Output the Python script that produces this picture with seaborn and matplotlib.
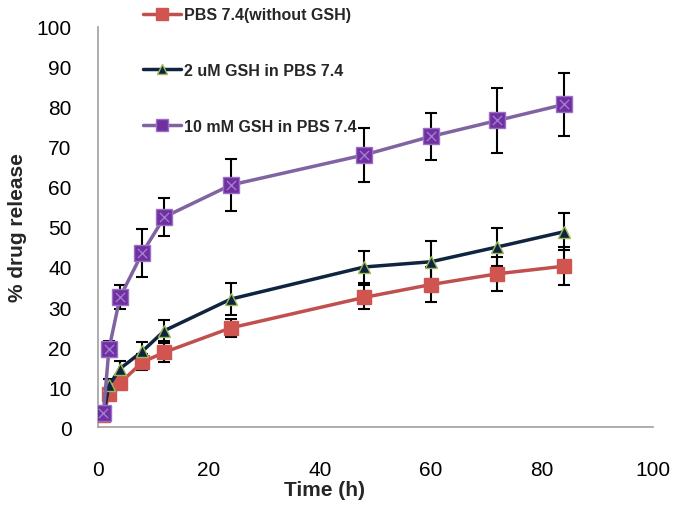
import pandas as pd
import matplotlib.pyplot as plt
import seaborn as sns

# 시간 (h)
time_h = [1, 2, 4, 8, 12, 24, 48, 60, 72, 84]

# 각 조건별 약물 방출 (%)
pbs_only = [3.0, 8.2, 11.0, 16.2, 18.7, 24.8, 32.4, 35.6, 38.3, 40.2]
pbs_only_err = [0.8, 1.2, 1.5, 2.0, 2.4, 2.3, 3.0, 4.4, 4.3, 4.8]
gsh_2um = [3.2, 10.4, 14.6, 18.9, 24.1, 32.0, 40.0, 41.3, 45.0, 48.8]
gsh_2um_err = [0.8, 1.5, 2.0, 2.3, 2.7, 4.0, 4.0, 5.3, 4.7, 4.6]
gsh_10mm = [3.6, 19.5, 32.5, 43.5, 52.5, 60.5, 68.0, 72.6, 76.6, 80.6]
gsh_10mm_err = [1.0, 2.1, 3.1, 6.0, 4.8, 6.6, 6.7, 5.8, 8.1, 7.9]

labels = ['PBS 7.4(without GSH)', '2 uM GSH in PBS 7.4', '10 mM GSH in PBS 7.4']

sns.set_style('white')
plt.rcParams['font.family'] = ['Liberation Sans', 'DejaVu Sans']

fig = plt.figure(figsize=(6.75, 5.06), dpi=100)
ax = fig.add_axes([0.145, 0.154, 0.822, 0.791])

series = [
    (pbs_only, pbs_only_err, '#C0504D', 's', '#D05550', '#D05550', 10),
    (gsh_2um, gsh_2um_err, '#0F243E', '^', '#0F243E', '#9BBB59', 9),
    (gsh_10mm, gsh_10mm_err, '#8064A2', 's', '#7030A0', '#9B6FC8', 11),
]

handles = []
for (vals, err, lc, mk, mfc, mec, ms), lab in zip(series, labels):
    df = pd.DataFrame({'time': time_h, 'release': vals})
    ax.errorbar(time_h, vals, yerr=err, fmt='none', ecolor='black',
                elinewidth=1.5, capsize=4, capthick=1.5, zorder=2)
    sns.lineplot(data=df, x='time', y='release', ax=ax, color=lc, lw=2.5,
                 marker=mk, markersize=ms, markerfacecolor=mfc,
                 markeredgecolor=mec, markeredgewidth=1, zorder=3)
    h, = ax.plot([], [], color=lc, lw=2.5, marker=mk, markersize=ms * 0.8,
                 markerfacecolor=mfc, markeredgecolor=mec)
    handles.append(h)

# 보라색 사각형 안의 X 표시
ax.scatter(time_h, gsh_10mm, marker='x', s=45, color='#A07CD0', lw=1, zorder=4)

ax.set_xlim(0, 100)
ax.set_ylim(0, 100)
ax.set_xticks(range(0, 101, 20))
ax.set_yticks(range(0, 101, 10))
ax.tick_params(axis='both', labelsize=15, colors='#A0A0A0', labelcolor='black',
               direction='out', length=7, width=1.2)
ax.tick_params(axis='y', pad=12)
ax.tick_params(axis='x', pad=17)
for s in ['top', 'right']:
    ax.spines[s].set_visible(False)
for s in ['left', 'bottom']:
    ax.spines[s].set_color('#A0A0A0')
    ax.spines[s].set_linewidth(1.2)

ax.set_xlabel('')
ax.set_ylabel('')
fig.text(0.48, 0.03, 'Time (h)', fontsize=15, fontweight='bold', ha='center', va='center')
fig.text(0.026, 0.55, '% drug release', fontsize=15, fontweight='bold', rotation=90,
         ha='center', va='center')

fig.legend(handles, labels, loc='upper left', bbox_to_anchor=(0.19, 1.012),
           frameon=False, prop={'size': 11.5, 'weight': 'bold'}, labelspacing=2.55,
           handlelength=2.4, handletextpad=0.2)

fig.savefig('out.png', dpi=100)
